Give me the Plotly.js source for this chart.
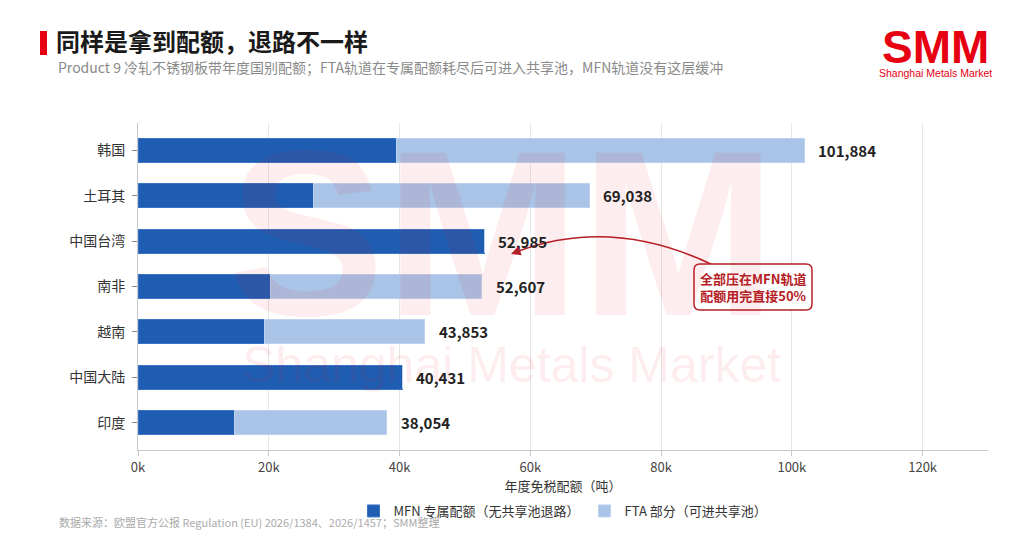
<!DOCTYPE html>
<html>
<head>
<meta charset="utf-8">
<script src="https://cdn.plot.ly/plotly-3.0.1.min.js"></script>
<style>html,body{margin:0;padding:0;background:#fff;}#chart{width:1024px;height:546px;}</style>
</head>
<body>
<div id="chart"></div>
<script>
var categories = ['韩国', '土耳其', '中国台湾', '南非', '越南', '中国大陆', '印度'];
var mfnValues = [39600, 26800, 52985, 20300, 19400, 40431, 14800];
var ftaValues = [62284, 42238, 0, 32307, 24453, 0, 23254];
var totals = [101884, 69038, 52985, 52607, 43853, 40431, 38054];
var xTickVals = [0, 20000, 40000, 60000, 80000, 100000, 120000];
var xTickText = ['0k', '20k', '40k', '60k', '80k', '100k', '120k'];

var FONT = '"Noto Sans CJK SC", "Noto Sans", sans-serif';
var L = 138, R = 988, T = 123, B = 450;
function px(x) { return (x - L) / (R - L); }
function py(y) { return (B - y) / (B - T); }

function roundRect(x0, y0, x1, y1, r) {
  // pixel coords -> paper path with rounded corners
  var p = [];
  p.push('M ' + px(x0 + r) + ',' + py(y0));
  p.push('L ' + px(x1 - r) + ',' + py(y0));
  p.push('Q ' + px(x1) + ',' + py(y0) + ' ' + px(x1) + ',' + py(y0 + r));
  p.push('L ' + px(x1) + ',' + py(y1 - r));
  p.push('Q ' + px(x1) + ',' + py(y1) + ' ' + px(x1 - r) + ',' + py(y1));
  p.push('L ' + px(x0 + r) + ',' + py(y1));
  p.push('Q ' + px(x0) + ',' + py(y1) + ' ' + px(x0) + ',' + py(y1 - r));
  p.push('L ' + px(x0) + ',' + py(y0 + r));
  p.push('Q ' + px(x0) + ',' + py(y0) + ' ' + px(x0 + r) + ',' + py(y0));
  p.push('Z');
  return p.join(' ');
}

var traces = [
  {
    type: 'bar', orientation: 'h', name: 'MFN 专属配额（无共享池退路）',
    y: categories, x: mfnValues,
    marker: {color: '#1f5db2', line: {color: '#3a74c4', width: 1}},
    hoverinfo: 'skip'
  },
  {
    type: 'bar', orientation: 'h', name: 'FTA 部分（可进共享池）',
    y: categories, x: ftaValues,
    marker: {color: '#a9c4e6', line: {color: '#bcd2ee', width: 1}},
    hoverinfo: 'skip'
  }
];

var annotations = [];
// watermark
annotations.push({xref: 'paper', yref: 'paper', x: px(502), y: py(233), text: '<b>SMM</b>', showarrow: false,
  font: {family: '"Liberation Sans", Arial, sans-serif', size: 235, color: 'rgba(230,0,18,0.07)'}, xanchor: 'center', yanchor: 'middle'});
annotations.push({xref: 'paper', yref: 'paper', x: px(511), y: py(365), text: 'Shanghai Metals Market', showarrow: false,
  font: {family: '"Liberation Sans", Arial, sans-serif', size: 50, color: 'rgba(230,0,18,0.07)'}, xanchor: 'center', yanchor: 'middle'});

// value labels
for (var i = 0; i < categories.length; i++) {
  annotations.push({
    x: totals[i], y: categories[i], xref: 'x', yref: 'y',
    text: '<b>' + totals[i].toLocaleString('en-US') + '</b>',
    showarrow: false, xanchor: 'left', yanchor: 'middle', xshift: 12,
    font: {family: FONT, size: 15, color: '#222'}
  });
}

// subtitle
annotations.push({xref: 'paper', yref: 'paper', x: px(56), y: py(67), xanchor: 'left', yanchor: 'middle', showarrow: false,
  text: 'Product 9 冷轧不锈钢板带年度国别配额；FTA轨道在专属配额耗尽后可进入共享池，MFN轨道没有这层缓冲',
  font: {family: FONT, size: 14, color: '#8a8a8a'}});
// logo
annotations.push({xref: 'paper', yref: 'paper', x: px(935), y: py(47), xanchor: 'center', yanchor: 'middle', showarrow: false,
  text: '<b>SMM</b>', font: {family: '"Liberation Sans", Arial, sans-serif', size: 46, color: '#e60012'}});
annotations.push({xref: 'paper', yref: 'paper', x: px(935), y: py(73), xanchor: 'center', yanchor: 'middle', showarrow: false,
  text: 'Shanghai Metals Market', font: {family: '"Liberation Sans", Arial, sans-serif', size: 10.5, color: '#e60012'}});
// footer
annotations.push({xref: 'paper', yref: 'paper', x: px(57), y: py(522), xanchor: 'left', yanchor: 'middle', showarrow: false,
  text: '数据来源：欧盟官方公报 Regulation (EU) 2026/1384、2026/1457；SMM整理',
  font: {family: FONT, size: 11, color: '#aaaaaa'}});
// callout text
annotations.push({xref: 'paper', yref: 'paper', x: px(753), y: py(287), xanchor: 'center', yanchor: 'middle', showarrow: false,
  text: '<b>全部压在MFN轨道</b><br><b>配额用完直接50%</b>',
  font: {family: FONT, size: 13, color: '#b52025'}, align: 'center'});
// arrowhead
annotations.push({xref: 'paper', yref: 'paper', x: px(511), y: py(254), ax: 11, ay: -4, text: '', showarrow: true,
  arrowhead: 2, arrowsize: 1.2, arrowwidth: 1.6, arrowcolor: '#b52025'});

var shapes = [
  {type: 'rect', xref: 'paper', yref: 'paper', x0: px(40), x1: px(47), y0: py(55), y1: py(31), fillcolor: '#e60012', line: {width: 0}},
  {type: 'path', xref: 'paper', yref: 'paper',
   path: 'M ' + px(713) + ',' + py(265) + ' Q ' + px(611) + ',' + py(216) + ' ' + px(516) + ',' + py(252),
   line: {color: '#b52025', width: 1.6}},
  {type: 'path', xref: 'paper', yref: 'paper', path: roundRect(694, 264, 812, 310, 6),
   fillcolor: '#ffffff', line: {color: '#b52025', width: 1.5}, layer: 'above'}
];

var layout = {
  width: 1024, height: 546,
  margin: {l: L, r: 1024 - R, t: T, b: 546 - B, pad: 0},
  paper_bgcolor: '#ffffff', plot_bgcolor: '#ffffff',
  barmode: 'stack', bargap: 0.47,
  showlegend: true,
  font: {family: FONT, color: '#333'},
  title: {text: '<b>同样是拿到配额，退路不一样</b>', x: 56 / 1024, xanchor: 'left', xref: 'container', y: 1 - 43 / 546, yref: 'container', yanchor: 'middle',
    font: {family: FONT, size: 24, color: '#1a1a1a'}},
  xaxis: {
    range: [0, 130000], tickvals: xTickVals, ticktext: xTickText,
    showgrid: true, gridcolor: '#e6e6e6', gridwidth: 1,
    showline: true, linecolor: '#c8c8c8', linewidth: 1,
    ticks: 'outside', ticklen: 5, tickcolor: '#c8c8c8',
    tickfont: {family: FONT, size: 13, color: '#444'},
    zeroline: false,
    title: {text: '年度免税配额（吨）', font: {family: FONT, size: 13, color: '#333'}, standoff: 5},
    fixedrange: true
  },
  yaxis: {
    type: 'category', categoryorder: 'array', categoryarray: categories,
    range: [6.6, -0.6],
    showgrid: false, showline: true, linecolor: '#c8c8c8', linewidth: 1,
    ticks: 'outside', ticklen: 5, tickcolor: '#888',
    tickfont: {family: FONT, size: 14, color: '#333'},
    ticklabelstandoff: 4,
    fixedrange: true
  },
  legend: {orientation: 'h', x: 0.5, xanchor: 'center', y: py(511), yanchor: 'middle',
    font: {family: FONT, size: 13, color: '#333'}, itemwidth: 30, traceorder: 'normal'},
  annotations: annotations,
  shapes: shapes
};

Plotly.newPlot('chart', traces, layout, {displayModeBar: false, staticPlot: true});
</script>
</body>
</html>
